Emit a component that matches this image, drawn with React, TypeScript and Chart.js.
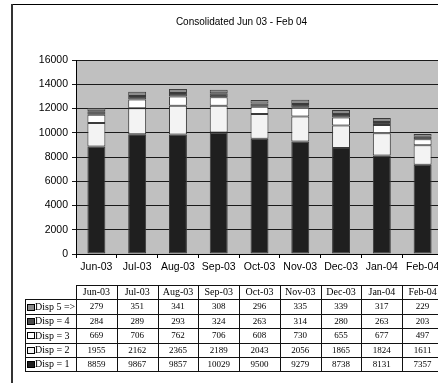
import React, { useEffect, useRef } from "react";
import { Chart, registerables } from "chart.js";

Chart.register(...registerables);

const categories = ["Jun-03", "Jul-03", "Aug-03", "Sep-03", "Oct-03", "Nov-03", "Dec-03", "Jan-04", "Feb-04"];
const disp1 = [8859, 9867, 9857, 10029, 9500, 9279, 8738, 8131, 7357];
const disp2 = [1955, 2162, 2365, 2189, 2043, 2056, 1865, 1824, 1611];
const disp3 = [669, 706, 762, 706, 608, 730, 655, 677, 497];
const disp4 = [284, 289, 293, 324, 263, 314, 280, 263, 203];
const disp5 = [279, 351, 341, 308, 296, 335, 339, 317, 229];
const seriesNames = ["Disp = 1", "Disp = 2", "Disp = 3", "Disp = 4", "Disp 5 =>"];
const titleText = "Consolidated Jun 03 - Feb 04";
const yMin = 0;
const yMax = 16000;
const yStep = 2000;

const W = 483;
const H = 400;
const SANS = '"Liberation Sans", Arial, sans-serif';
const SERIF = '"Liberation Serif", "Times New Roman", serif';

export default function App() {
  const ref = useRef<HTMLCanvasElement | null>(null);

  useEffect(() => {
    if (!ref.current) return;
    const series = [disp1, disp2, disp3, disp4, disp5];
    const fills = ["#1f1f1f", "#f3f3f3", "#ffffff", "#4a4a4a", "#8c8c8c"];

    const decor = {
      id: "decor",
      beforeDraw(chart: any) {
        const { ctx, chartArea } = chart;
        ctx.save();
        ctx.fillStyle = "#ffffff";
        ctx.fillRect(0, 0, chart.width, chart.height);
        ctx.fillStyle = "#c0c0c0";
        ctx.fillRect(chartArea.left, chartArea.top, chartArea.right - chartArea.left, chartArea.bottom - chartArea.top);
        ctx.restore();
      },
      afterDraw(chart: any) {
        const { ctx, chartArea } = chart;
        const xs = chart.scales.x;
        const n = categories.length;
        const catW = (xs.right - xs.left) / n;
        const top = chartArea.bottom + 31;
        const rowH = 14.4;
        const legendLeft = 25;
        const rows = 6;
        ctx.save();
        // frame
        ctx.strokeStyle = "#000";
        ctx.lineWidth = 1;
        ctx.strokeRect(11.5, 4.5, chart.width + 20, chart.height + 20);
        ctx.fillStyle = "#333";
        ctx.fillRect(11, 4, 2, chart.height);

        // title
        ctx.fillStyle = "#000";
        ctx.font = "10px " + SANS;
        ctx.textAlign = "center";
        ctx.textBaseline = "middle";
        ctx.fillText(titleText, chart.width / 2, 22);

        // table lines
        ctx.strokeStyle = "#111";
        ctx.lineWidth = 1;
        const bottom = top + rows * rowH;
        ctx.beginPath();
        ctx.moveTo(xs.left, Math.round(top) + 0.5);
        ctx.lineTo(xs.right + 40, Math.round(top) + 0.5);
        for (let r = 1; r <= rows; r++) {
          const y = Math.round(top + r * rowH) + 0.5;
          ctx.moveTo(legendLeft, y);
          ctx.lineTo(xs.right + 40, y);
        }
        ctx.moveTo(legendLeft + 0.5, Math.round(top + rowH));
        ctx.lineTo(legendLeft + 0.5, Math.round(bottom) + 1);
        for (let i = 0; i <= n; i++) {
          const x = Math.round(xs.left + i * catW) + 0.5;
          ctx.moveTo(x, Math.round(top));
          ctx.lineTo(x, Math.round(bottom) + 1);
        }
        ctx.stroke();

        ctx.fillStyle = "#000";
        ctx.font = "10px " + SERIF;
        ctx.textAlign = "center";
        ctx.textBaseline = "middle";
        for (let i = 0; i < n; i++) {
          const cx = xs.left + (i + 0.5) * catW;
          ctx.fillText(categories[i], cx, top + rowH / 2 + 0.5);
        }
        for (let r = 0; r < series.length; r++) {
          const si = series.length - 1 - r;
          const y = top + (r + 1) * rowH + rowH / 2 + 0.5;
          ctx.font = "9px " + SERIF;
          for (let i = 0; i < n; i++) {
            const cx = xs.left + (i + 0.5) * catW;
            ctx.fillStyle = "#000";
            ctx.textAlign = "center";
            ctx.fillText(String(series[si][i]), cx, y);
          }
          // legend swatch
          const sy = Math.round(y - 3.5) + 0.5;
          ctx.fillStyle = fills[si];
          ctx.fillRect(legendLeft + 2.5, sy, 7, 6);
          ctx.strokeStyle = "#000";
          ctx.strokeRect(legendLeft + 2.5, sy, 7, 6);
          ctx.fillStyle = "#000";
          ctx.textAlign = "left";
          ctx.font = "10px " + SERIF;
          ctx.fillText(seriesNames[si], legendLeft + 10, y);
        }
        ctx.restore();
      },
    };

    const chart = new Chart(ref.current, {
      type: "bar",
      data: {
        labels: categories,
        datasets: series.map((d, i) => ({
          label: seriesNames[i],
          data: d,
          backgroundColor: fills[i],
          borderColor: "#3a3a3a",
          borderWidth: 1,
          borderSkipped: false,
          categoryPercentage: 1,
          barPercentage: 0.44,
        })),
      },
      options: {
        animation: false,
        responsive: false,
        devicePixelRatio: 1,
        layout: { padding: { left: 0, right: W - 443, top: 60, bottom: H - 254 - 30 } },
        plugins: {
          legend: { display: false },
          tooltip: { enabled: false },
          title: { display: false },
        },
        scales: {
          x: {
            stacked: true,
            offset: true,
            grid: { display: true, drawOnChartArea: false, drawTicks: true, tickLength: 4, color: "#000", offset: true },
            border: { display: true, color: "#000", width: 1 },
            ticks: { color: "#000", font: { family: SANS, size: 10.5 }, padding: 3, maxRotation: 0, autoSkip: false },
            afterFit(scale: any) {
              scale.height = 30;
            },
          },
          y: {
            stacked: true,
            min: yMin,
            max: yMax,
            grid: { color: "#1a1a1a", lineWidth: 1, tickLength: 4, drawTicks: true },
            border: { display: true, color: "#000", width: 1 },
            ticks: {
              stepSize: yStep,
              color: "#000",
              font: { family: SANS, size: 10.5 },
              padding: 4,
              callback: (v: any) => String(v),
            },
            afterFit(scale: any) {
              scale.width = 76;
            },
          },
        },
      },
      plugins: [decor],
    } as any);
    return () => chart.destroy();
  }, []);

  return (
    <div style={{ position: "absolute", left: 0, top: 0, width: 438, height: 383, overflow: "hidden", background: "#fff" }}>
      <canvas ref={ref} width={W} height={H} style={{ width: W, height: H, display: "block" }} />
    </div>
  );
}
